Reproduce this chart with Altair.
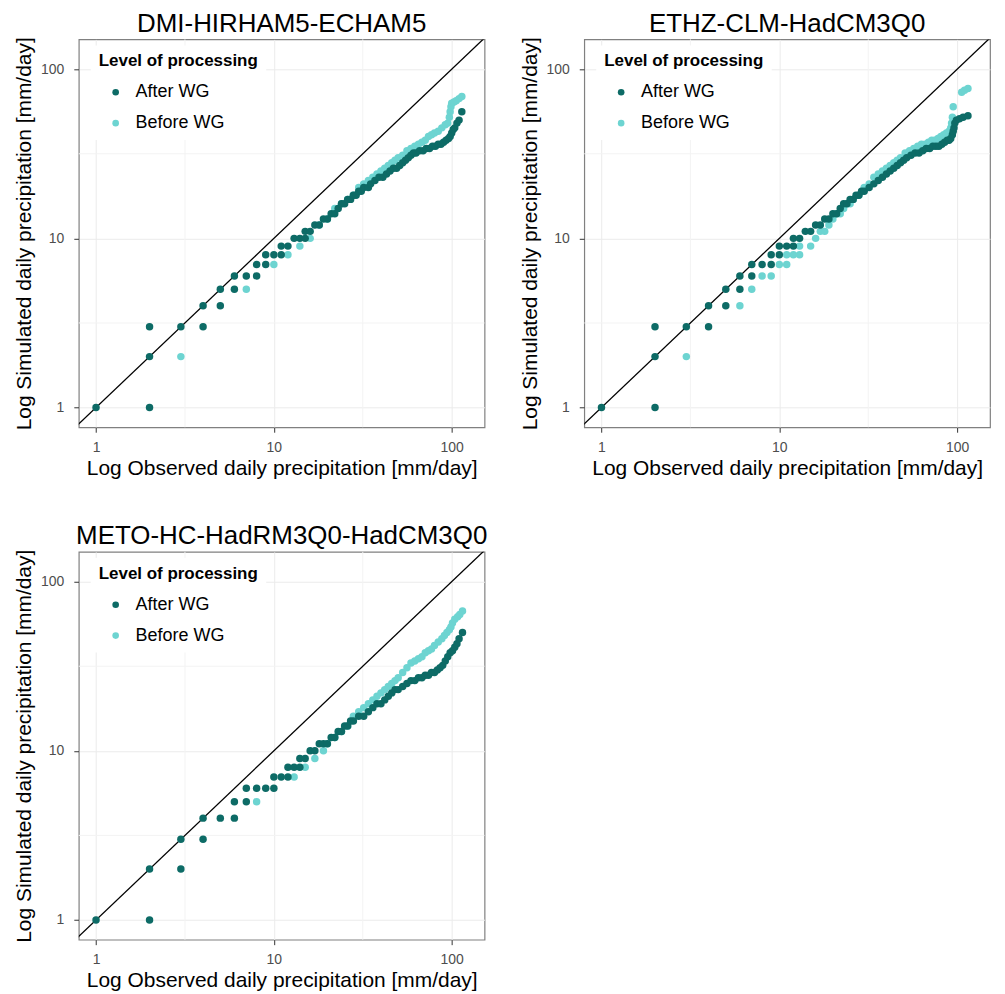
import altair as alt
import pandas as pd

# ---------------- data ----------------
titles = ["DMI-HIRHAM5-ECHAM5", "ETHZ-CLM-HadCM3Q0", "METO-HC-HadRM3Q0-HadCM3Q0"]
series_names = ["After WG", "Before WG"]
tick_values = [1, 10, 100]
minor_values = [3.1623, 31.623]

# Panel 1: DMI-HIRHAM5-ECHAM5
p1_after_obs = [1, 2, 2, 2, 3, 4, 4, 5, 5, 6, 6, 7, 8, 8, 9, 9, 10, 11, 11, 12, 13, 14, 15, 15, 16, 17, 18,
                19, 20, 21, 22, 23, 24, 25, 26, 27, 28, 29, 30, 31, 32, 34, 35, 37, 39, 41, 43, 45, 47, 49,
                51, 53, 55, 57, 59, 61, 63, 66, 69, 72, 75, 78, 81, 84, 87, 90, 93, 96, 98, 100, 102, 104,
                107, 110, 114]
p1_after_sim = [1, 1, 2, 3, 3, 3, 4, 4, 5, 5, 6, 6, 6, 7, 7, 8, 8, 8, 9, 9, 10, 10, 10, 11, 11, 12, 12,
                13, 13, 14, 14, 15, 16, 16, 17, 17, 18, 18, 19, 19, 20, 20, 21, 22, 23, 23, 24, 25, 26, 26,
                27, 28, 29, 30, 31, 32, 32, 33, 33, 34, 34, 35, 35, 36, 36, 37, 38, 39, 40, 42, 44, 45,
                48, 50, 56]
p1_before_obs = [3, 7, 10, 12, 14, 16, 18, 20, 22, 24, 26, 28, 30, 32, 34, 36, 38, 40, 42, 44, 46, 48, 50,
                 53, 56, 59, 62, 65, 68, 71, 74, 77, 80, 84, 88, 92, 95, 97, 98, 99, 100, 103, 106, 110, 114]
p1_before_sim = [2, 5, 7, 8, 9, 10, 12, 13, 15, 16, 17, 18, 20, 21, 22, 23, 24, 25, 26, 27, 28, 29, 30,
                 31, 33, 34, 35, 36, 37, 38, 40, 41, 42, 43, 45, 47, 48, 52, 56, 60, 63, 64, 65, 67, 69]

# Panel 2: ETHZ-CLM-HadCM3Q0
p2_after_obs = [1, 2, 2, 2, 3, 4, 4, 5, 5, 6, 6, 7, 7, 8, 9, 9, 10, 10, 11, 12, 12, 13, 14, 15,
                16, 17, 18, 19, 20, 21, 22, 23, 24, 25, 26, 27, 28, 29, 30, 32, 34, 36, 38, 40, 42, 44,
                46, 48, 50, 52, 55, 58, 61, 64, 67, 70, 73, 76, 79, 82, 85, 88, 90, 92, 94, 95, 96, 97,
                99, 103, 108, 115]
p2_after_sim = [1, 1, 2, 3, 3, 3, 4, 4, 5, 5, 6, 6, 7, 7, 7, 8, 8, 9, 9, 9, 10, 10, 11, 11,
                12, 12, 13, 13, 14, 14, 15, 16, 16, 17, 17, 18, 18, 19, 19, 20, 21, 22, 23, 24, 25, 26,
                27, 28, 29, 30, 31, 32, 32, 33, 34, 34, 35, 35, 35, 36, 37, 38, 38, 39, 41, 43, 45, 48,
                50, 51, 52, 53]
p2_before_obs = [3, 6, 7, 8, 9, 10, 11, 11, 12, 13, 13, 15, 16, 17, 18, 19, 20, 21, 22, 23, 24, 25, 26,
                 28, 30, 32, 34, 36, 38, 40, 42, 44, 46, 48, 51, 54, 57, 60, 63, 66, 69, 72, 75, 78, 81,
                 84, 87, 90, 92, 93, 94, 95, 106, 110, 115]
p2_before_sim = [2, 4, 5, 6, 6, 7, 7, 8, 8, 8, 9, 9, 10, 11, 11, 12, 13, 14, 14, 15, 16, 16, 17,
                 18, 20, 21, 23, 24, 25, 26, 27, 28, 29, 30, 32, 33, 34, 35, 36, 36, 37, 38, 38, 39, 40,
                 41, 42, 43, 45, 48, 52, 60, 73, 75, 77]

# Panel 3: METO-HC-HadRM3Q0-HadCM3Q0
p3_after_obs = [1, 2, 2, 3, 3, 4, 4, 5, 6, 6, 7, 7, 8, 9, 10, 10, 11, 12, 12, 13, 14, 14, 15,
                16, 17, 18, 19, 20, 21, 22, 23, 24, 25, 26, 27, 28, 30, 32, 34, 36, 38, 40, 42, 44, 46,
                48, 50, 53, 56, 59, 62, 65, 68, 71, 74, 77, 80, 83, 86, 89, 92, 95, 98, 101, 104, 107,
                110, 115]
p3_after_sim = [1, 1, 2, 2, 3, 3, 4, 4, 4, 5, 5, 6, 6, 6, 6, 7, 7, 7, 8, 8, 8, 9, 9,
                10, 10, 11, 11, 11, 12, 12, 13, 13, 14, 14, 15, 15, 16, 16, 17, 18, 19, 19, 20, 21, 22,
                23, 23, 24, 25, 26, 26, 27, 27, 28, 28, 29, 29, 30, 31, 32, 34, 36, 38, 39, 41, 43,
                46, 50]
p3_before_obs = [8, 13, 15, 17, 19, 20, 22, 24, 26, 28, 30, 32, 34, 36, 38, 40, 42, 44, 46, 48, 50, 53,
                 56, 59, 62, 65, 68, 71, 74, 77, 80, 84, 88, 91, 94, 97, 99, 101, 104, 108, 111, 115]
p3_before_sim = [5, 7, 8, 9, 10, 11, 12, 13, 14, 16, 17, 18, 19, 20, 21, 22, 23, 24, 25, 26, 27, 29,
                 31, 33, 34, 35, 36, 38, 39, 40, 42, 44, 46, 48, 50, 52, 54, 57, 60, 62, 64, 67]

panels = [
    (p1_after_obs, p1_after_sim, p1_before_obs, p1_before_sim),
    (p2_after_obs, p2_after_sim, p2_before_obs, p2_before_sim),
    (p3_after_obs, p3_after_sim, p3_before_obs, p3_before_sim),
]

# ---------------- styling ----------------
DARK = "#0D6B66"
LIGHT = "#6DD4D1"
FONT = "Liberation Sans"
W, H = 407, 389
XDOM = [0.80, 153]
YDOM = [0.765, 150]

color_scale = alt.Scale(domain=series_names, range=[DARK, LIGHT])


def make_panel(idx):
    a_obs, a_sim, b_obs, b_sim = panels[idx]
    rows = []
    # Before WG first so After WG is drawn on top
    for o, s in zip(b_obs, b_sim):
        rows.append({"obs": o, "sim": s, "level": "Before WG", "ord": 0})
    for o, s in zip(a_obs, a_sim):
        rows.append({"obs": o, "sim": s, "level": "After WG", "ord": 1})
    df = pd.DataFrame(rows)

    xs = alt.Scale(type="log", domain=XDOM, nice=False)
    ys = alt.Scale(type="log", domain=YDOM, nice=False)

    xaxis = alt.Axis(values=tick_values, format="d", grid=True, gridColor="#EBEBEB",
                     labelPadding=8, titlePadding=3,
                     title="Log Observed daily precipitation [mm/day]")
    yaxis = alt.Axis(values=tick_values, format="d", grid=True, gridColor="#EBEBEB",
                     labelPadding=10, titlePadding=6,
                     title="Log Simulated daily precipitation [mm/day]")

    minor_df = pd.DataFrame({"v": minor_values})
    minor_x = alt.Chart(minor_df).mark_rule(color="#F3F3F3", strokeWidth=1).encode(
        x=alt.X("v:Q", scale=xs, axis=xaxis))
    minor_y = alt.Chart(minor_df).mark_rule(color="#F3F3F3", strokeWidth=1).encode(
        y=alt.Y("v:Q", scale=ys, axis=yaxis))

    diag_df = pd.DataFrame({"v": [0.5, 300]})
    diag = alt.Chart(diag_df).mark_line(color="black", strokeWidth=1.3, clip=True).encode(
        x=alt.X("v:Q", scale=xs), y=alt.Y("v:Q", scale=ys))

    pts = alt.Chart(df).mark_circle(size=56, opacity=1).encode(
        x=alt.X("obs:Q", scale=xs),
        y=alt.Y("sim:Q", scale=ys),
        color=alt.Color("level:N", scale=color_scale,
                        legend=alt.Legend(title="Level of processing", orient="none",
                                          legendX=12, legendY=6,
                                          fillColor="white", padding=8,
                                          titleFontSize=17, titleFontWeight="bold", titleFont=FONT,
                                          titleColor="black", labelFontSize=18, labelFont=FONT,
                                          labelColor="black", symbolType="circle", symbolSize=44,
                                          symbolOffset=8, labelOffset=11,
                                          rowPadding=13, titlePadding=13, symbolStrokeWidth=0)),
        order=alt.Order("ord:Q"),
    )

    return alt.layer(minor_x, minor_y, diag, pts).properties(
        width=W, height=H,
        title=alt.TitleParams(titles[idx], fontSize=26, font=FONT, fontWeight="normal",
                              color="black", anchor="middle", offset=0),
    )


row1 = alt.hconcat(make_panel(0), make_panel(1), spacing=32).resolve_scale(color="independent")
chart = alt.vconcat(row1, make_panel(2), spacing=43).resolve_scale(
    color="independent"
).properties(
    padding={"left": 5, "top": 0, "right": 5, "bottom": 5}
).configure_view(
    stroke="#808080", strokeWidth=1.2
).configure_axis(
    domain=False, tickColor="#333333", tickSize=5, labelFontSize=14, labelFont=FONT,
    labelColor="#4D4D4D", titleFontSize=21, titleFont=FONT, titleFontWeight="normal",
    titleColor="black",
).configure_axisY(labelAngle=0)

chart.save("out.html", embed_options={"renderer": "svg", "actions": False})
